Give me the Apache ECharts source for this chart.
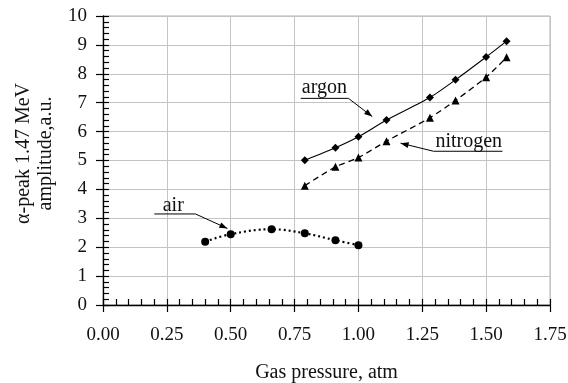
<!DOCTYPE html>
<html>
<head>
<meta charset="utf-8">
<script src="https://cdn.jsdelivr.net/npm/echarts@6/dist/echarts.min.js"></script>
<style>
  html, body { margin: 0; padding: 0; background: #fff; }
  #chart { width: 568px; height: 383px; }
</style>
</head>
<body>
<div id="chart"></div>
<script>
// values
const argonX = [0.79, 0.91, 1.00, 1.11, 1.28, 1.38, 1.50, 1.58];
const argonY = [5.01, 5.44, 5.82, 6.40, 7.18, 7.79, 8.58, 9.13];
const nitrogenX = [0.79, 0.91, 1.00, 1.11, 1.28, 1.38, 1.50, 1.58];
const nitrogenY = [4.13, 4.78, 5.10, 5.67, 6.48, 7.08, 7.88, 8.57];
const airX = [0.40, 0.50, 0.66, 0.79, 0.91, 1.00];
const airY = [2.19, 2.45, 2.62, 2.48, 2.24, 2.07];

const xTicks = ['0.00', '0.25', '0.50', '0.75', '1.00', '1.25', '1.50', '1.75'];

// annotation: label centre, underline ends, arrow tip (data units)
const notes = [
    { text: 'argon', label: [0.867, 7.51], line: [[0.774, 7.15], [0.961, 7.15]], tip: [1.054, 6.52] },
    { text: 'nitrogen', label: [1.432, 5.66], line: [[1.564, 5.32], [1.294, 5.32]], tip: [1.165, 5.60] },
    { text: 'air', label: [0.275, 3.43], line: [[0.201, 3.15], [0.362, 3.15]], tip: [0.487, 2.65] }
];

const pairs = (xs, ys) => xs.map((x, i) => [x, ys[i]]);
const FONT = '"Liberation Serif", "DejaVu Serif", serif';

const chart = echarts.init(document.getElementById('chart'));

const gridLine = { show: true, lineStyle: { color: '#c4c4c4', width: 1 } };

chart.setOption({
    animation: false,
    grid: {
        left: 103, right: 18, top: 16, bottom: 78, show: true,
        borderColor: '#b0b0b0', borderWidth: 1,
        containLabel: false, outerBoundsMode: 'none'
    },
    xAxis: [{
        type: 'value', min: 0, max: 1.75, interval: 0.25,
        name: 'Gas pressure, atm', nameLocation: 'middle', nameGap: 58,
        nameTextStyle: { fontFamily: FONT, fontSize: 20, color: '#111' },
        axisLine: { show: true, lineStyle: { color: '#000', width: 1.3 } },
        axisTick: { show: true, inside: true, length: 6, lineStyle: { color: '#000', width: 1.2 } },
        minorTick: { show: true, splitNumber: 5, length: 6, lineStyle: { color: '#000', width: 1.2 } },
        axisLabel: {
            fontFamily: FONT, fontSize: 19, color: '#111', margin: 21,
            formatter: (v) => xTicks[Math.round(v / 0.25)]
        },
        splitLine: gridLine
    }, {
        // outer half of the major ticks
        type: 'value', min: 0, max: 1.75, interval: 0.25, position: 'bottom',
        axisLine: { show: false },
        axisTick: { show: true, inside: false, length: 7, lineStyle: { color: '#000', width: 1.2 } },
        axisLabel: { show: false }, splitLine: { show: false }
    }],
    yAxis: [{
        type: 'value', min: 0, max: 10, interval: 1,
        name: 'α-peak 1.47 MeV\namplitude,a.u.', nameLocation: 'middle', nameGap: 45, nameRotate: 90,
        nameTextStyle: { fontFamily: FONT, fontSize: 20, color: '#111', lineHeight: 22, padding: [0, 0, 0, 14] },
        axisLine: { show: true, lineStyle: { color: '#000', width: 1.3 } },
        axisTick: { show: true, inside: true, length: 6, lineStyle: { color: '#000', width: 1.2 } },
        minorTick: { show: true, splitNumber: 5, length: 6, lineStyle: { color: '#000', width: 1.2 } },
        axisLabel: { fontFamily: FONT, fontSize: 19, color: '#111', margin: 16 },
        splitLine: gridLine
    }, {
        type: 'value', min: 0, max: 10, interval: 1, position: 'left',
        axisLine: { show: false },
        axisTick: { show: true, inside: false, length: 7, lineStyle: { color: '#000', width: 1.2 } },
        axisLabel: { show: false }, splitLine: { show: false }
    }],
    series: [{
        name: 'argon', type: 'line', data: pairs(argonX, argonY), smooth: 0.25,
        symbol: 'diamond', symbolSize: 8,
        itemStyle: { color: '#000' },
        lineStyle: { color: '#000', width: 1.1 }
    }, {
        name: 'nitrogen', type: 'line', data: pairs(nitrogenX, nitrogenY), smooth: 0.25,
        symbol: 'triangle', symbolSize: 8,
        itemStyle: { color: '#000' },
        lineStyle: { color: '#000', width: 1.3, type: [6, 4] }
    }, {
        name: 'air', type: 'line', data: pairs(airX, airY), smooth: 0.4,
        symbol: 'circle', symbolSize: 8,
        itemStyle: { color: '#000' },
        lineStyle: { color: '#000', width: 2.2, type: [2, 3] }
    }]
});

// annotations placed through the grid's own scale
const px = (p) => chart.convertToPixel({ gridIndex: 0 }, p);
let graphics = [];
notes.forEach((n) => {
    const c = px(n.label);
    const a = px(n.line[0]);
    const b = px(n.line[1]);
    const t = px(n.tip);
    graphics.push({
        type: 'text', x: c[0], y: c[1],
        style: { text: n.text, font: '20px ' + FONT, fill: '#111', textAlign: 'center', textVerticalAlign: 'middle' }
    });
    graphics.push({
        type: 'polyline', shape: { points: [a, b, t] },
        style: { stroke: '#000', lineWidth: 1, fill: null }
    });
    // arrow head
    const dx = t[0] - b[0], dy = t[1] - b[1];
    const len = Math.sqrt(dx * dx + dy * dy);
    const ux = dx / len, uy = dy / len;
    const hl = 8, hw = 3;
    const base = [t[0] - ux * hl, t[1] - uy * hl];
    graphics.push({
        type: 'polygon',
        shape: { points: [t, [base[0] - uy * hw, base[1] + ux * hw], [base[0] + uy * hw, base[1] - ux * hw]] },
        style: { fill: '#000' }
    });
});
chart.setOption({ graphic: graphics });
</script>
</body>
</html>
